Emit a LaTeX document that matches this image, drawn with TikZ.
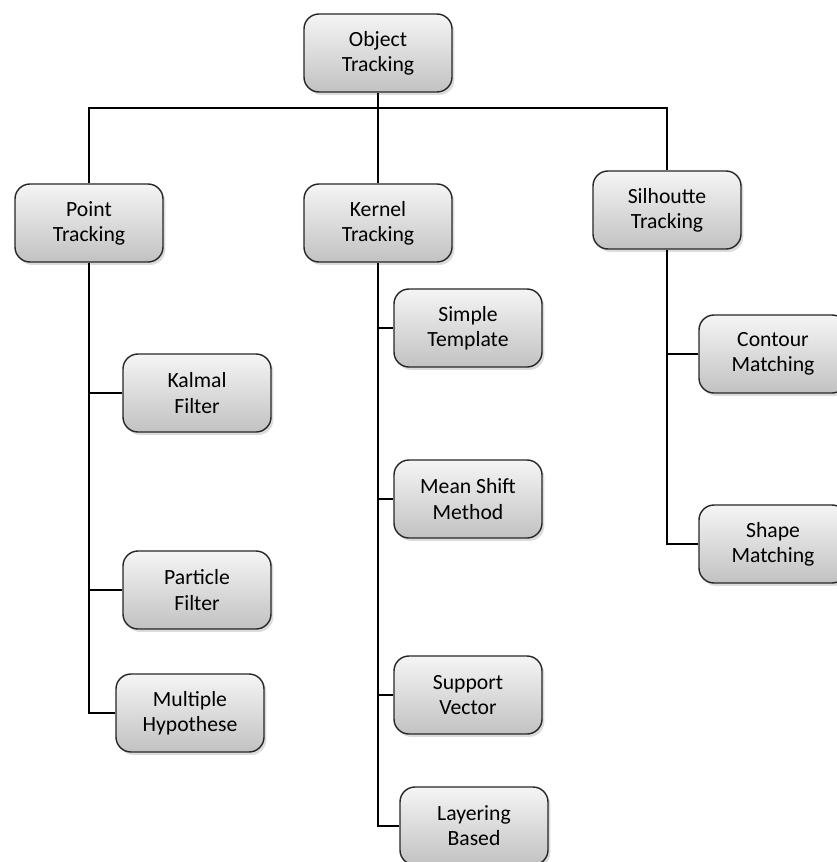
\documentclass[tikz,border=0pt]{standalone}
\usepackage{fontspec}
\setmainfont{Carlito}
\usetikzlibrary{shadows}

\tikzset{
    box/.style={draw=black!85, line width=1.2pt, rounded corners=0.45cm,
        top color=black!4, bottom color=black!24,
        minimum width=4.44cm, minimum height=2.34cm, inner sep=0pt,
        align=center, font=\fontsize{18.5}{21.5}\selectfont,
        drop shadow={shadow xshift=2pt, shadow yshift=-2.5pt, opacity=0.28}},
    trunk/.style={line width=1.6pt},
    branch/.style={line width=1.2pt}
}

\begin{document}
\begin{tikzpicture}[x=0.03cm, y=-0.03cm]
    \useasboundingbox (0, 0) rectangle (837, 862);

    % top level
    \node [box] (obj) at (378, 53) {Object\\Tracking};
    \coordinate (bar) at (378, 108);

    % second level
    \node [box] (point)  at (89, 223)  {Point\\Tracking};
    \node [box] (kernel) at (378, 223) {Kernel\\Tracking};
    \node [box] (silh)   at (667, 210) {Silhoutte\\Tracking};

    % point tracking leaves
    \node [box] (kalmal)   at (197, 393) {Kalmal\\Filter};
    \node [box] (particle) at (197, 590) {Particle\\Filter};
    \node [box] (multiple) at (190, 713) {Multiple\\Hypothese};

    % kernel tracking leaves
    \node [box] (simple)    at (468, 328) {Simple\\Template};
    \node [box] (meanshift) at (468, 499) {Mean Shift\\Method};
    \node [box] (support)   at (468, 695) {Support\\Vector};
    \node [box] (layering)  at (474, 826) {Layering\\Based};

    % silhoutte tracking leaves
    \node [box] (contour) at (773, 354) {Contour\\Matching};
    \node [box] (shape)   at (773, 544) {Shape\\Matching};

    % connectors
    \draw [trunk] (obj.south) -- (kernel.north);
    \draw [trunk] (point.north) |- (bar) -| (silh.north);

    \draw [trunk] (point.south) |- (multiple.west);
    \draw [branch] (point.south |- kalmal.west) -- (kalmal.west);
    \draw [branch] (point.south |- particle.west) -- (particle.west);

    \draw [trunk] (kernel.south) |- (layering.west);
    \draw [branch] (kernel.south |- simple.west) -- (simple.west);
    \draw [branch] (kernel.south |- meanshift.west) -- (meanshift.west);
    \draw [branch] (kernel.south |- support.west) -- (support.west);

    \draw [trunk] (silh.south) |- (shape.west);
    \draw [branch] (silh.south |- contour.west) -- (contour.west);
\end{tikzpicture}
\end{document}
